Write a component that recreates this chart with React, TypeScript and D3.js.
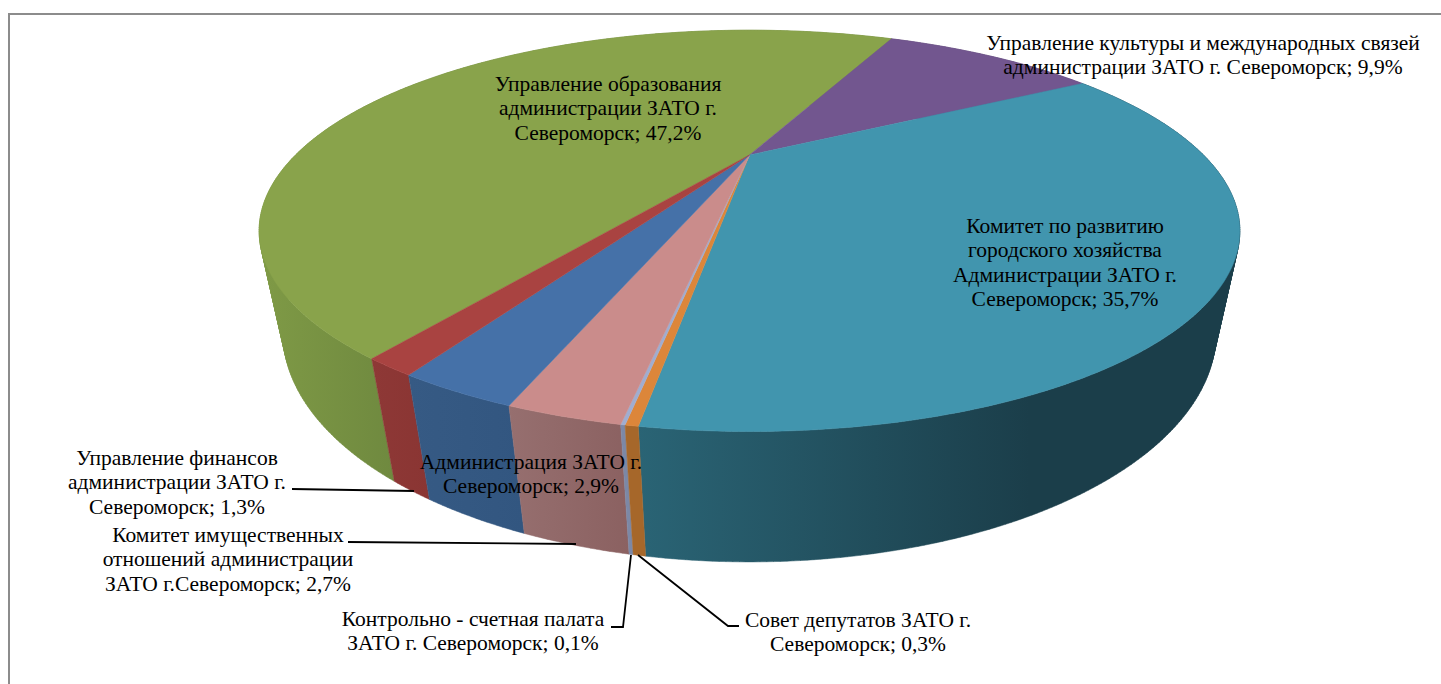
import React from 'react';
import * as d3 from 'd3';

// shares of the budget, clockwise starting from the green slice
const names = [
  'Управление образования',
  'Управление культуры',
  'Комитет по развитию',
  'Совет депутатов',
  'Контрольно - счетная палата',
  'Комитет имущественных отношений',
  'Администрация',
  'Управление финансов',
];
const shares = [47.2, 9.9, 35.7, 0.3, 0.1, 2.7, 2.9, 1.3];
const topColors = ['#89a34b', '#72568f', '#4195ae', '#dc863a', '#a0add0', '#ca8c8b', '#4571a8', '#a94341'];
const sideColors = [
  ['#7f9a46', '#6f893f'],
  ['#5a4472', '#5a4472'],
  ['#2a6475', '#1b3e4a'],
  ['#a6672a', '#a6672a'],
  ['#7c88a6', '#7c88a6'],
  ['#966f6f', '#8b6161'],
  ['#365a84', '#325680'],
  ['#8e3836', '#8a3533'],
];

const labelLines = [
  ['Управление образования', 'администрации ЗАТО г.', 'Североморск; 47,2%'],
  ['Управление культуры и международных связей', 'администрации ЗАТО г. Североморск; 9,9%'],
  ['Комитет по развитию', 'городского хозяйства', 'Администрации ЗАТО г.', 'Североморск; 35,7%'],
  ['Совет депутатов ЗАТО г.', 'Североморск; 0,3%'],
  ['Контрольно - счетная палата', 'ЗАТО г. Североморск; 0,1%'],
  ['Комитет имущественных', 'отношений администрации', 'ЗАТО г.Североморск; 2,7%'],
  ['Администрация ЗАТО г.', 'Североморск; 2,9%'],
  ['Управление финансов', 'администрации ЗАТО г.', 'Североморск; 1,3%'],
];
const labelX = [608, 1203, 1065, 858, 473, 228, 531, 177];
const labelY = [91, 50, 233, 627, 626, 542, 469, 465];

const leaders: [number, number][][] = [
  [[292, 489], [414, 491]],
  [[348, 542], [576, 544]],
  [[611, 627], [623, 627], [631, 555]],
  [[739, 626], [728, 626], [638, 555]],
];

const width = 1441;
const height = 684;
const lineHeight = 24.4;

// perspective of the disc: depth 0 is the top face, depth 1 the bottom one
const cx = 749.5;
const cy = 155;
const R = 454;
const B = 172;
const D = 99;
const k = 0.378;
const m = 0.044;

const project = (angle: number, depth: number): [number, number] => {
  const u = Math.sin(angle);
  const v = -Math.cos(angle);
  const w = 1 - k * v + m * depth;
  return [cx + (R * u) / w, cy + (B * v + D * depth) / w];
};

const arcAngles = (a0: number, a1: number) => {
  const n = Math.max(2, Math.ceil((a1 - a0) / 0.01));
  return d3.range(n + 1).map(i => a0 + ((a1 - a0) * i) / n);
};

const arcPoints = (a0: number, a1: number, depth: number) => arcAngles(a0, a1).map(a => project(a, depth));

const line = d3.line();
const startAngle = (25 * Math.PI) / 180 - (47.2 / 100) * 2 * Math.PI;
const slices = d3.pie<number>().sort(null).startAngle(startAngle).endAngle(startAngle + 2 * Math.PI)(shares);

// one quad per arc step, all wound the same way or the nonzero fill cancels out past the silhouette
const wallPath = (a0: number, a1: number) => {
  const angles = arcAngles(a0, a1);
  return d3
    .pairs(angles)
    .map(([a, b]) => {
      const quad = [project(a, 0), project(b, 0), project(b, 1), project(a, 1)];
      if (d3.polygonArea(quad) < 0) quad.reverse();
      return `${line(quad)}Z`;
    })
    .join('');
};

const App: React.FC = () => {
  // walls go back to front so the near ones cover the far ones
  const wallOrder = d3.range(shares.length).sort(
    (a, b) => project((slices[a].startAngle + slices[a].endAngle) / 2, 0)[1] - project((slices[b].startAngle + slices[b].endAngle) / 2, 0)[1],
  );

  return (
    <svg
      width={width}
      height={height}
      style={{ position: 'absolute', left: 0, top: 0, background: '#fff' }}
      fontFamily="'Liberation Serif', serif"
    >
      <defs>
        {slices.map((s, i) => {
          const visible = arcAngles(s.startAngle, s.endAngle).filter(a => Math.cos(a) < 0.1);
          const xs = visible.flatMap(a => [project(a, 0)[0], project(a, 1)[0]]);
          const ext = d3.extent(xs) as [number, number];
          const fromLeft = i !== 2;
          return (
            <linearGradient
              key={names[i]}
              id={`side-${i}`}
              gradientUnits="userSpaceOnUse"
              x1={ext[0]}
              x2={fromLeft ? ext[1] : ext[0] + (ext[1] - ext[0]) * 0.65}
              y1={0}
              y2={0}
            >
              <stop offset="0" stopColor={sideColors[i][0]} />
              <stop offset="1" stopColor={sideColors[i][1]} />
            </linearGradient>
          );
        })}
      </defs>

      <path d={`M9,${height}V14H${width}`} fill="none" stroke="#8c8c8c" strokeWidth={2} />

      <g>
        {wallOrder.map(i => (
          <path
            key={i}
            d={wallPath(slices[i].startAngle, slices[i].endAngle)}
            fill={`url(#side-${i})`}
            stroke={`url(#side-${i})`}
            strokeWidth={0.5}
          />
        ))}
      </g>

      <g>
        {slices.map((s, i) => {
          const pts = [[cx, cy] as [number, number], ...arcPoints(s.startAngle, s.endAngle, 0)];
          return <path key={i} d={`${line(pts)}Z`} fill={topColors[i]} stroke={topColors[i]} strokeWidth={0.5} />;
        })}
      </g>

      <g fill="none" stroke="#000" strokeWidth={1.8}>
        {leaders.map((pts, i) => (
          <path key={i} d={line(pts) as string} />
        ))}
      </g>

      <g fontSize={21.5} fill="#000" textAnchor="middle">
        {labelLines.map((lines, i) => (
          <text key={i} x={labelX[i]} y={labelY[i]}>
            {lines.map((t, j) => (
              <tspan key={j} x={labelX[i]} y={labelY[i] + j * lineHeight}>
                {t}
              </tspan>
            ))}
          </text>
        ))}
      </g>
    </svg>
  );
};

export default App;
